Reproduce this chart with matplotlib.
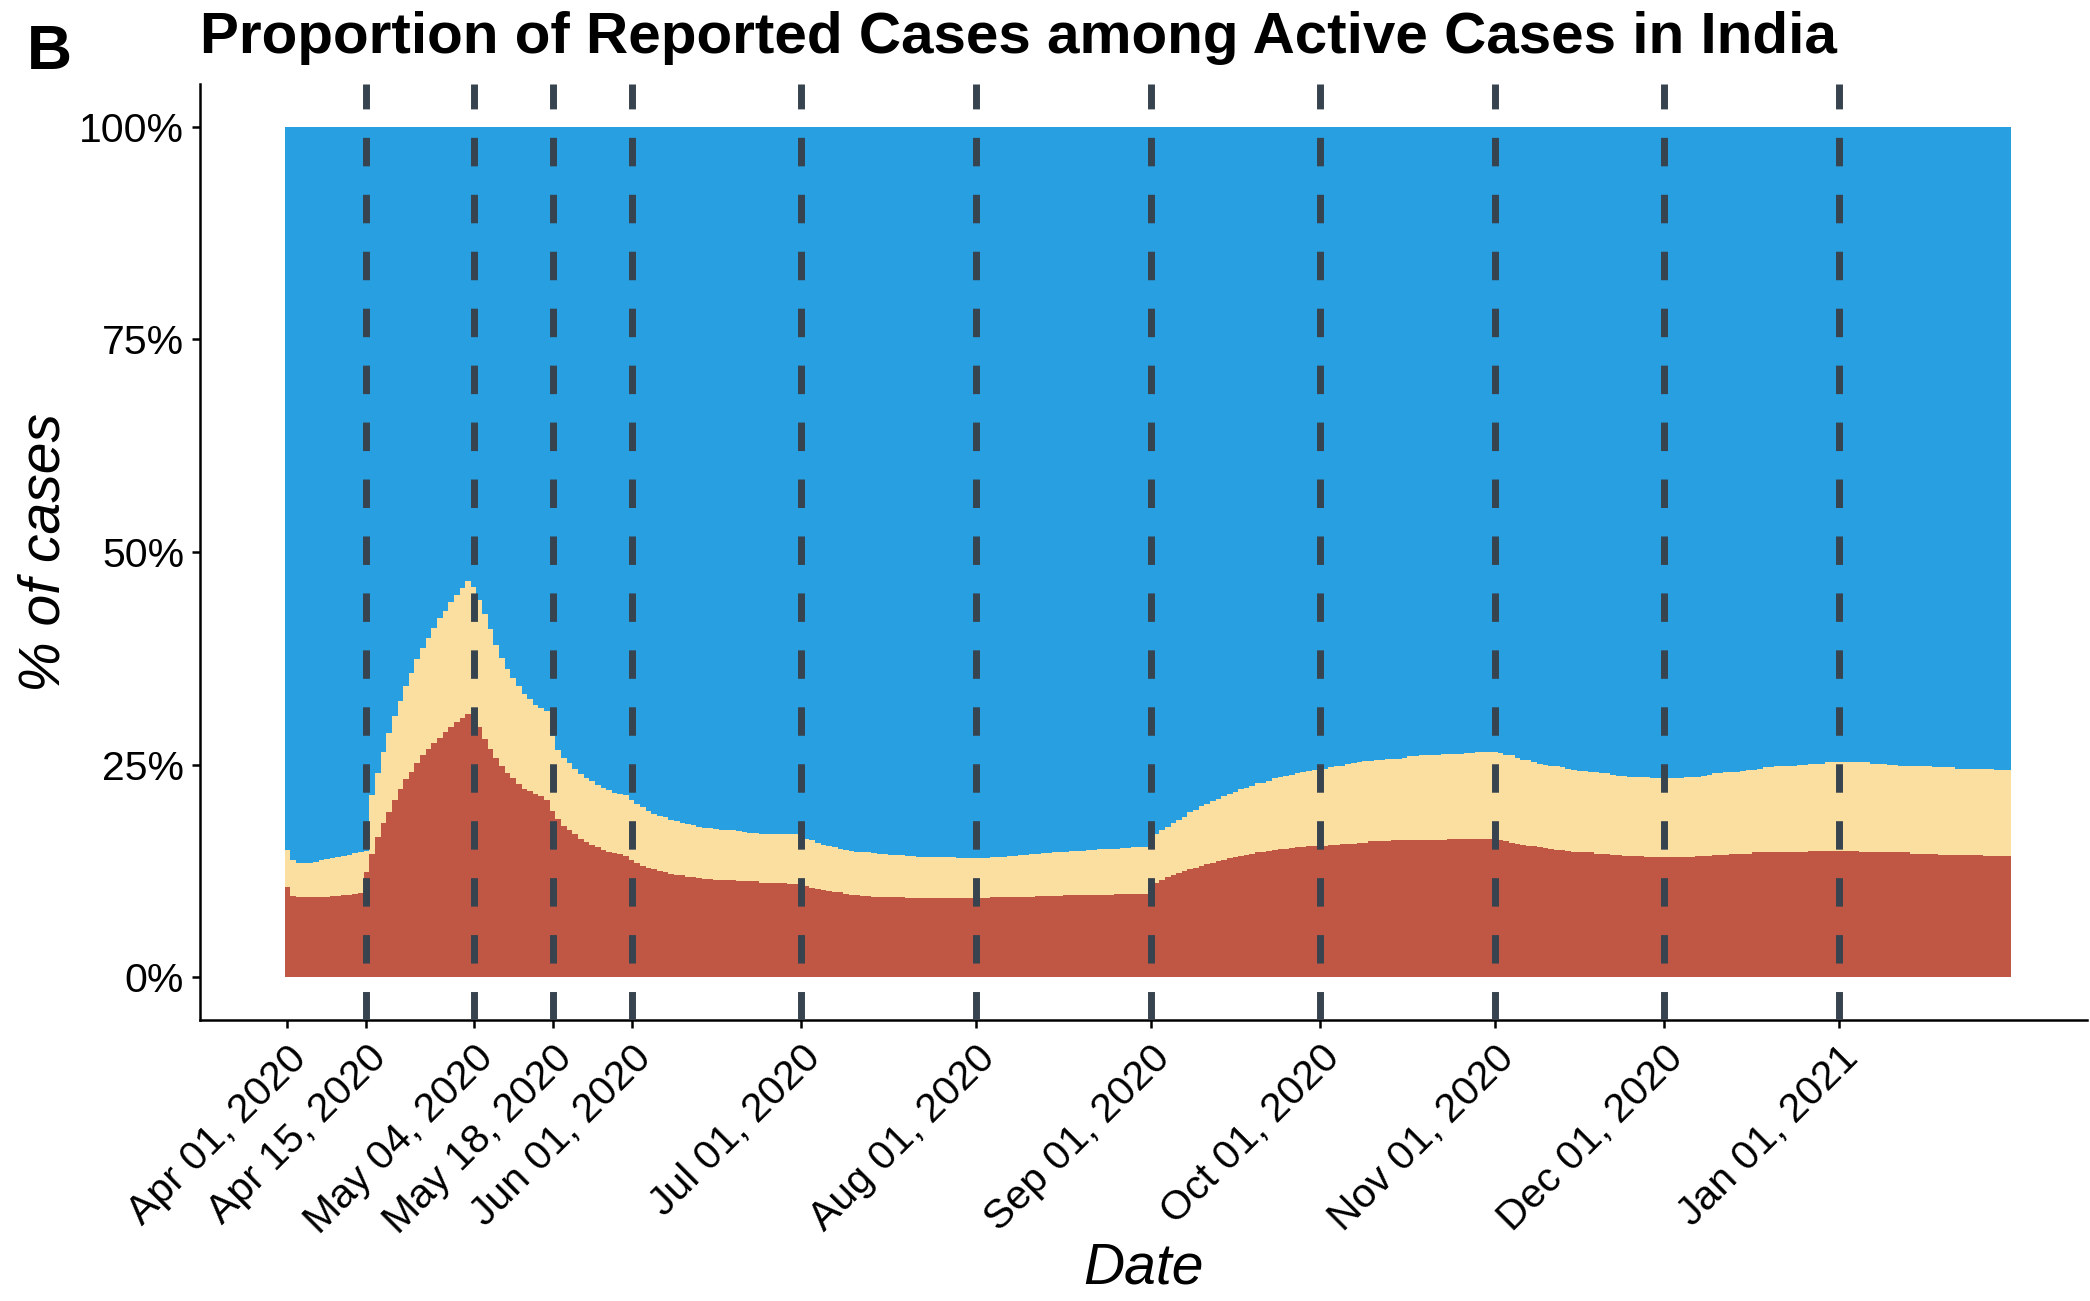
import numpy as np
import pandas as pd
import matplotlib
matplotlib.use("Agg")
from matplotlib import pyplot as plt
import matplotlib.dates as mdates
import matplotlib.ticker as ticker

plt.rcParams['font.family'] = ['Liberation Sans', 'DejaVu Sans']

# % of active cases that are reported (red, bottom), per day, by month
reported_apr = [10.6, 9.6, 9.4, 9.4, 9.4, 9.4, 9.5, 9.5, 9.6, 9.6, 9.7, 9.7, 9.8, 9.9, 12.4,
                14.5, 16.5, 18.1, 19.5, 20.9, 22.1, 23.3, 24.2, 25.2, 26.1, 26.8, 27.6, 28.2, 28.9, 29.4]
reported_may = [30.0, 30.5, 31.0, 30.9, 29.4, 28.0, 26.9, 25.8, 24.9, 24.0, 23.4, 22.7, 22.2, 21.9, 21.6,
                21.3, 20.9, 19.6, 18.6, 17.8, 17.3, 16.8, 16.3, 15.9, 15.6, 15.3, 15.0, 14.8, 14.6, 14.5, 14.3]
reported_jun = [13.8, 13.4, 13.1, 12.9, 12.8, 12.5, 12.4, 12.2, 12.0, 12.0, 11.8, 11.8, 11.7, 11.6, 11.6,
                11.5, 11.5, 11.4, 11.4, 11.3, 11.3, 11.3, 11.3, 11.1, 11.1, 11.1, 11.1, 11.1, 11.0, 11.0]
reported_jul = [11.0, 10.7, 10.5, 10.4, 10.3, 10.2, 10.0, 10.0, 9.8, 9.7, 9.7, 9.6, 9.6, 9.5, 9.5, 9.5,
                9.4, 9.4, 9.4, 9.3, 9.3, 9.3, 9.3, 9.3, 9.3, 9.3, 9.3, 9.3, 9.3, 9.3, 9.3]
reported_aug = [9.3, 9.3, 9.3, 9.4, 9.4, 9.4, 9.4, 9.5, 9.5, 9.5, 9.5, 9.6, 9.6, 9.6, 9.6, 9.6,
                9.7, 9.7, 9.7, 9.7, 9.7, 9.7, 9.7, 9.7, 9.7, 9.8, 9.8, 9.8, 9.8, 9.8, 9.8]
reported_sep = [10.6, 11.1, 11.5, 11.8, 12.0, 12.3, 12.5, 12.8, 12.9, 13.1, 13.3, 13.5, 13.7, 13.8, 14.0,
                14.2, 14.3, 14.4, 14.5, 14.7, 14.8, 14.9, 15.0, 15.1, 15.1, 15.2, 15.3, 15.3, 15.4, 15.4]
reported_oct = [15.4, 15.5, 15.6, 15.6, 15.7, 15.7, 15.7, 15.8, 15.8, 16.0, 16.0, 16.0, 16.0, 16.1, 16.1,
                16.1, 16.1, 16.2, 16.2, 16.2, 16.2, 16.2, 16.2, 16.3, 16.3, 16.3, 16.3, 16.3, 16.3, 16.3, 16.3]
reported_nov = [16.3, 16.2, 16.0, 15.8, 15.7, 15.6, 15.5, 15.4, 15.3, 15.2, 15.1, 15.0, 15.0, 14.9, 14.8,
                14.8, 14.7, 14.7, 14.5, 14.5, 14.5, 14.4, 14.4, 14.3, 14.3, 14.3, 14.3, 14.2, 14.2, 14.2]
reported_dec = [14.2, 14.2, 14.2, 14.2, 14.2, 14.2, 14.3, 14.3, 14.3, 14.4, 14.4, 14.4, 14.5, 14.5, 14.5,
                14.5, 14.7, 14.7, 14.7, 14.7, 14.8, 14.8, 14.8, 14.8, 14.8, 14.8, 14.9, 14.9, 14.9, 14.9, 14.9]
reported_jan = [14.9, 14.9, 14.9, 14.9, 14.8, 14.8, 14.8, 14.8, 14.8, 14.7, 14.7, 14.7, 14.7, 14.5, 14.5,
                14.5, 14.5, 14.5, 14.4, 14.4, 14.4, 14.4, 14.4, 14.4, 14.4, 14.4, 14.3, 14.3, 14.3, 14.3, 14.3]

# top of the tan band (reported + second group), % of active cases
upper_apr = [15.0, 13.8, 13.5, 13.5, 13.5, 13.6, 13.8, 13.9, 14.0, 14.2, 14.3, 14.4, 14.6, 14.7, 14.9,
             21.4, 24.0, 26.5, 28.7, 30.7, 32.5, 34.3, 35.8, 37.4, 38.7, 39.9, 41.1, 42.2, 43.1, 44.1]
upper_may = [44.9, 45.8, 46.6, 45.9, 44.4, 42.7, 40.9, 39.1, 37.6, 36.3, 35.2, 34.2, 33.3, 32.7, 32.0,
             31.7, 31.3, 28.4, 26.7, 25.8, 25.2, 24.5, 23.9, 23.4, 23.1, 22.6, 22.3, 22.0, 21.7, 21.6, 21.4]
upper_jun = [20.9, 20.4, 20.0, 19.6, 19.2, 19.0, 18.8, 18.5, 18.4, 18.2, 18.0, 17.9, 17.7, 17.6, 17.6,
             17.5, 17.3, 17.3, 17.3, 17.2, 17.1, 17.0, 17.0, 16.9, 16.9, 16.9, 16.8, 16.8, 16.8, 16.8]
upper_jul = [16.7, 16.3, 16.1, 15.8, 15.6, 15.5, 15.3, 15.1, 15.0, 14.9, 14.8, 14.7, 14.7, 14.6, 14.5, 14.5,
             14.4, 14.4, 14.4, 14.3, 14.3, 14.2, 14.2, 14.2, 14.2, 14.1, 14.1, 14.1, 14.0, 14.0, 14.0]
upper_aug = [14.0, 14.0, 14.0, 14.1, 14.2, 14.2, 14.3, 14.3, 14.4, 14.4, 14.5, 14.5, 14.6, 14.6, 14.7, 14.7,
             14.8, 14.9, 14.9, 14.9, 15.0, 15.0, 15.1, 15.1, 15.1, 15.1, 15.2, 15.2, 15.3, 15.3, 15.3]
upper_sep = [16.3, 16.8, 17.3, 17.7, 18.2, 18.5, 18.9, 19.4, 19.7, 20.1, 20.4, 20.7, 21.0, 21.3, 21.6,
             21.8, 22.1, 22.3, 22.5, 22.8, 22.9, 23.1, 23.4, 23.6, 23.7, 23.8, 24.0, 24.1, 24.3, 24.4]
upper_oct = [24.5, 24.5, 24.7, 24.8, 24.9, 25.1, 25.2, 25.3, 25.4, 25.4, 25.5, 25.6, 25.7, 25.7, 25.7, 25.8,
             26.0, 26.0, 26.1, 26.1, 26.2, 26.2, 26.3, 26.3, 26.3, 26.3, 26.4, 26.4, 26.5, 26.5, 26.5]
upper_nov = [26.5, 26.4, 26.2, 26.1, 25.8, 25.6, 25.5, 25.3, 25.1, 25.0, 24.9, 24.8, 24.7, 24.5, 24.4,
             24.3, 24.3, 24.1, 24.1, 24.0, 24.0, 23.8, 23.7, 23.7, 23.6, 23.6, 23.6, 23.5, 23.4, 23.4]
upper_dec = [23.4, 23.4, 23.4, 23.4, 23.5, 23.6, 23.6, 23.7, 23.8, 24.0, 24.0, 24.1, 24.2, 24.2, 24.3, 24.4,
             24.4, 24.5, 24.7, 24.7, 24.8, 24.8, 24.9, 24.9, 25.0, 25.0, 25.1, 25.1, 25.1, 25.3, 25.3]
upper_jan = [25.3, 25.3, 25.3, 25.3, 25.3, 25.3, 25.1, 25.1, 25.1, 25.0, 25.0, 24.9, 24.9, 24.9, 24.8, 24.8,
             24.8, 24.7, 24.7, 24.7, 24.7, 24.5, 24.5, 24.5, 24.5, 24.5, 24.5, 24.5, 24.4, 24.4, 24.4]

# dates of the dashed lines and the x tick labels
event_dates = ['2020-04-15', '2020-05-04', '2020-05-18', '2020-06-01', '2020-07-01', '2020-08-01',
               '2020-09-01', '2020-10-01', '2020-11-01', '2020-12-01', '2021-01-01']
tick_dates = ['2020-04-01'] + event_dates

reported = np.array(reported_apr + reported_may + reported_jun + reported_jul + reported_aug
                    + reported_sep + reported_oct + reported_nov + reported_dec + reported_jan)
upper = np.array(upper_apr + upper_may + upper_jun + upper_jul + upper_aug
                 + upper_sep + upper_oct + upper_nov + upper_dec + upper_jan)
middle = upper - reported
rest = 100 - upper
days = pd.date_range('2020-04-01', periods=len(reported), freq='D')

red = '#C05644'
tan = '#FADFA0'
blue = '#279FE1'
line_col = '#37434E'

fig = plt.figure(figsize=(20.9, 13.01), dpi=100)
ax = fig.add_axes([0.0957, 0.216, 0.903, 0.7194])

# bars a hair wider than a day so neighbours overlap without seams
ax.bar(days, reported, width=1.02, color=red, linewidth=0, antialiased=False)
ax.bar(days, middle, bottom=reported, width=1.02, color=tan, linewidth=0, antialiased=False)
ax.bar(days, rest, bottom=upper, width=1.02, color=blue, linewidth=0, antialiased=False)

for d in event_dates:
    ax.axvline(pd.Timestamp(d), color=line_col, lw=5, linestyle=(0, (4.1, 4.1)), zorder=5)

start = mdates.date2num(pd.Timestamp('2020-04-01'))
ax.set_xlim(start - 15.5, start + 319)
ax.set_ylim(-5, 105)

ax.set_xticks([pd.Timestamp(d) for d in tick_dates])
ax.xaxis.set_major_formatter(mdates.DateFormatter('%b %d, %Y'))
for lab in ax.get_xticklabels():
    lab.set_rotation(45)
    lab.set_ha('right')
    lab.set_va('top')
    lab.set_rotation_mode('anchor')
ax.set_yticks([0, 25, 50, 75, 100])
ax.yaxis.set_major_formatter(ticker.PercentFormatter(decimals=0))
ax.tick_params(labelsize=29.5, length=5.5, width=1.8, colors='black', pad=6)
ax.tick_params(axis='x', pad=8)

for s in ['top', 'right']:
    ax.spines[s].set_visible(False)
for s in ['left', 'bottom']:
    ax.spines[s].set_linewidth(1.8)

ax.set_xlabel('Date', fontsize=41, style='italic', labelpad=0)
ax.set_ylabel('% of cases', fontsize=41, style='italic', labelpad=4)
ax.yaxis.set_label_coords(-0.068, 0.5)
ax.set_title('Proportion of Reported Cases among Active Cases in India', loc='left',
             fontsize=42, fontweight='bold', pad=22)
fig.text(0.013, 0.982, 'B', fontsize=45, fontweight='bold', va='top', ha='left')

fig.savefig('out.png', dpi=100)
